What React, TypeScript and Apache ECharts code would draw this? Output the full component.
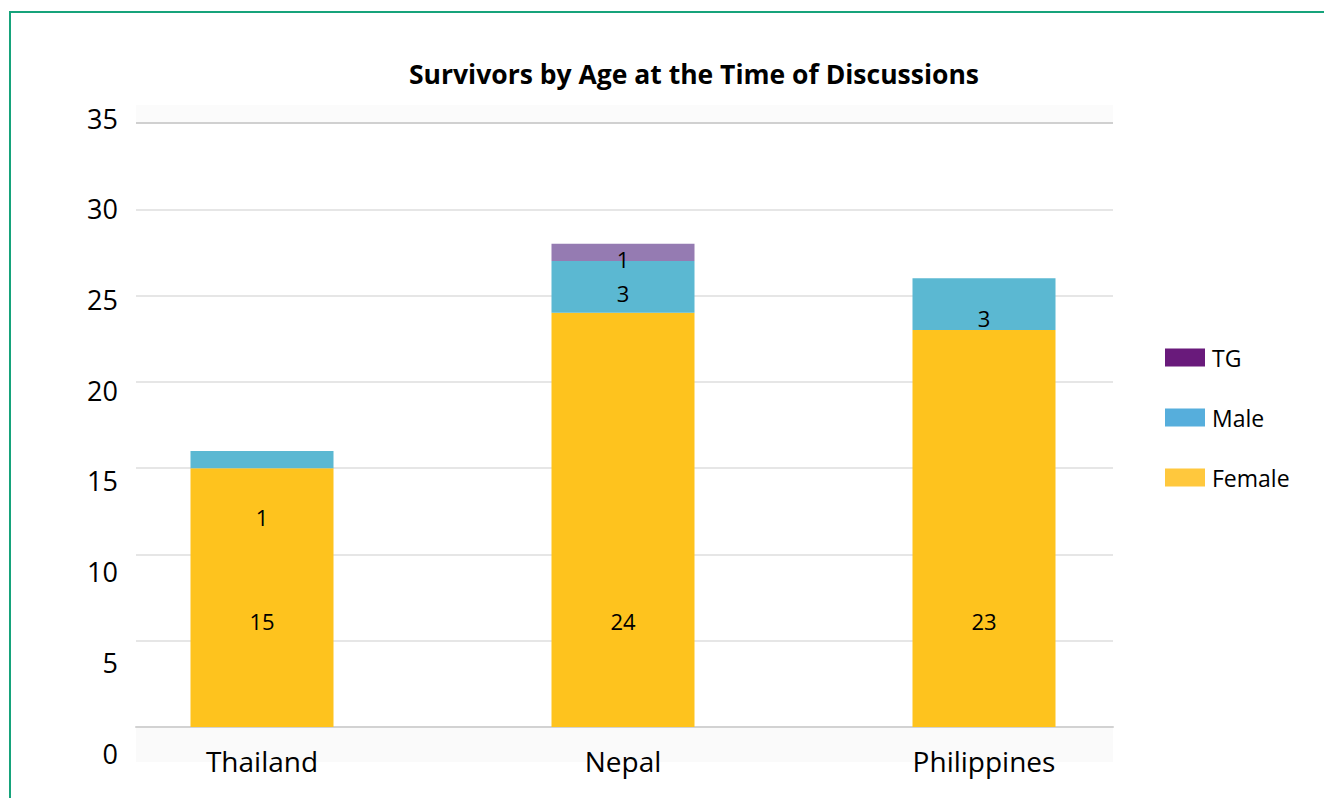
import React, { useEffect, useRef } from "react";
import * as echarts from "echarts";

// Survivor counts per country, stacked by gender
const countries = ["Thailand", "Nepal", "Philippines"];
const female = [15, 24, 23];
const male = [1, 3, 3];
const tg = [0, 1, 0];
const yTicks = [0, 5, 10, 15, 20, 25, 30, 35];

// Vertical nudges (px) for the value labels of the upper segments
const maleLabelShift = [57, 6, 14];
const tgLabelShift = [0, 7, 0];

const FONT = "Open Sans";
const BAR_FEMALE = "#FEC31E";
const BAR_MALE = "#5BB8D2";
const BAR_TG = "#957BB2";

export default function App() {
  const ref = useRef<HTMLDivElement>(null);

  useEffect(() => {
    if (!ref.current) return;
    const chart = echarts.init(ref.current, undefined, { renderer: "svg" });
    const yMax = yTicks[yTicks.length - 1];

    const option: echarts.EChartsOption = {
      animation: false,
      backgroundColor: "#ffffff",
      textStyle: { fontFamily: FONT },
      title: {
        text: "Survivors by Age at the Time of Discussions",
        left: 689,
        top: 55,
        textAlign: "center",
        textStyle: { fontFamily: FONT, fontWeight: "bold", fontSize: 26.5, color: "#000" },
      },
      legend: {
        orient: "vertical",
        left: 1160,
        top: 341,
        itemWidth: 40,
        itemHeight: 18,
        itemGap: 37,
        icon: "rect",
        textStyle: { fontFamily: FONT, fontSize: 23, color: "#000", lineHeight: 22, padding: [0, 0, 0, 2] },
        data: [
          { name: "TG", itemStyle: { color: "#691A7B" } },
          { name: "Male", itemStyle: { color: "#56AEDC" } },
          { name: "Female", itemStyle: { color: "#FFC83D" } },
        ],
      },
      graphic: [
        { type: "rect", shape: { x: 136, y: 105, width: 977, height: 17 }, style: { fill: "#fbfbfb" }, z: -10 },
        { type: "rect", shape: { x: 136, y: 728, width: 977, height: 34 }, style: { fill: "#fafafa" }, z: -10 },
        { type: "line", shape: { x1: 9, y1: 12, x2: 1324, y2: 12 }, style: { stroke: "#16A37B", lineWidth: 2 } },
        { type: "line", shape: { x1: 10, y1: 11, x2: 10, y2: 798 }, style: { stroke: "#16A37B", lineWidth: 2 } },
      ],
      grid: [
        // bars
        { left: 81.5, right: 159.5, top: 123, bottom: 71 },
        // gridlines
        { left: 136, right: 211, top: 123, bottom: 71 },
        // value labels of the y axis
        { left: 122, right: 211, top: 118, bottom: 45 },
      ],
      xAxis: [
        {
          type: "category",
          gridIndex: 0,
          data: countries,
          axisLine: { show: false },
          axisTick: { show: false },
          axisLabel: { fontFamily: FONT, fontSize: 28, color: "#000", margin: 20 },
        },
        {
          type: "category",
          gridIndex: 1,
          data: countries,
          axisLine: { show: true, lineStyle: { color: "#d2d2d2", width: 2 } },
          axisTick: { show: false },
          axisLabel: { show: false },
        },
        { type: "category", gridIndex: 2, data: countries, show: false },
      ],
      yAxis: [
        {
          type: "value",
          gridIndex: 0,
          min: 0,
          max: yMax,
          interval: 5,
          axisLabel: { show: false },
          splitLine: { show: false },
          axisLine: { show: false },
        },
        {
          type: "value",
          gridIndex: 1,
          min: 0,
          max: yMax,
          interval: 5,
          axisLabel: { show: false },
          axisLine: { show: false },
          splitLine: {
            show: true,
            lineStyle: { color: ["#d2d2d2", "#e6e6e6", "#e6e6e6", "#e6e6e6", "#e6e6e6", "#e6e6e6", "#e6e6e6", "#d0d0d0"], width: 2 },
          },
        },
        {
          type: "value",
          gridIndex: 2,
          min: 0,
          max: yMax,
          interval: 5,
          axisLine: { show: false },
          axisTick: { show: false },
          splitLine: { show: false },
          axisLabel: { fontFamily: FONT, fontSize: 27, color: "#000", margin: 4 },
        },
      ],
      series: [
        {
          name: "Female",
          type: "bar",
          stack: "total",
          xAxisIndex: 0,
          yAxisIndex: 0,
          barWidth: 143,
          itemStyle: { color: BAR_FEMALE },
          label: {
            show: true,
            position: "insideBottom",
            distance: 95,
            fontFamily: FONT,
            fontSize: 22,
            color: "#000",
          },
          data: female,
        },
        {
          name: "Male",
          type: "bar",
          stack: "total",
          xAxisIndex: 0,
          yAxisIndex: 0,
          barWidth: 143,
          itemStyle: { color: BAR_MALE },
          data: male.map((v, i) => ({
            value: v,
            label: {
              show: v > 0,
              position: "inside",
              offset: [0, maleLabelShift[i]],
              fontFamily: FONT,
              fontSize: 22,
              color: "#000",
            },
          })),
        },
        {
          name: "TG",
          type: "bar",
          stack: "total",
          xAxisIndex: 0,
          yAxisIndex: 0,
          barWidth: 143,
          itemStyle: { color: BAR_TG },
          data: tg.map((v, i) => ({
            value: v,
            label: {
              show: v > 0,
              position: "inside",
              offset: [0, tgLabelShift[i]],
              fontFamily: FONT,
              fontSize: 22,
              color: "#000",
            },
          })),
        },
      ],
    };

    chart.setOption(option);
    return () => chart.dispose();
  }, []);

  return (
    <div
      ref={ref}
      style={{ position: "fixed", left: 0, top: 0, width: 1324, height: 798 }}
    />
  );
}
